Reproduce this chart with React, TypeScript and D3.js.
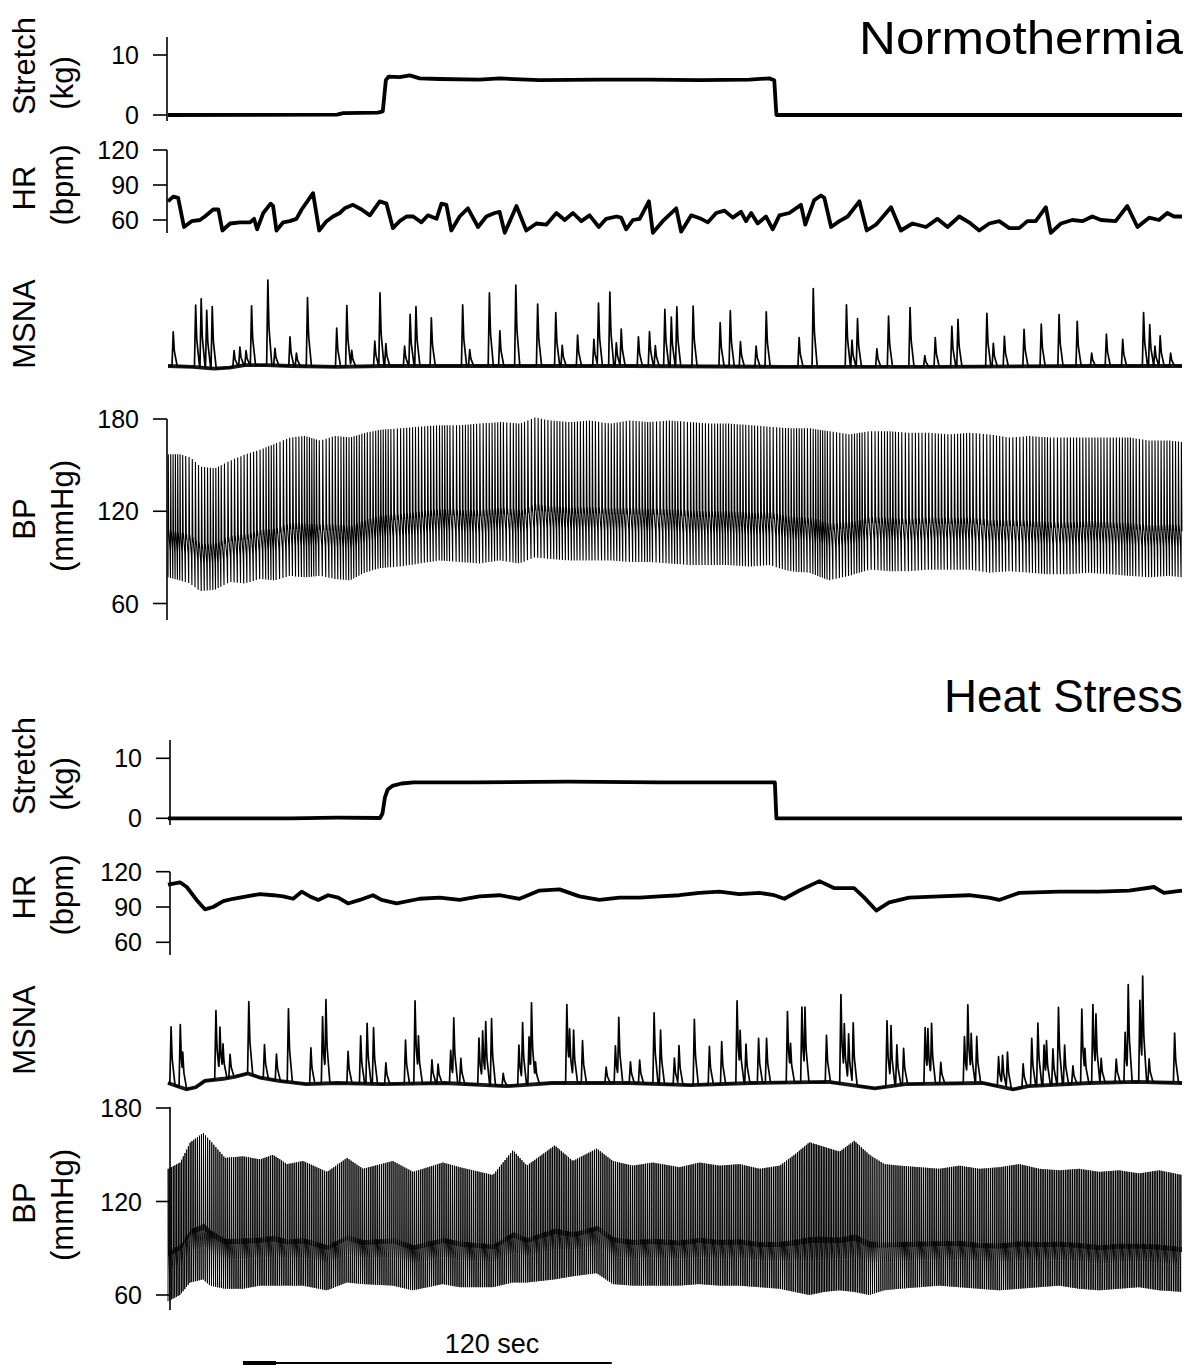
import React from "react";
import * as d3 from "d3";

// Recording length in seconds (x axis of every trace)
const T_END = 330;

// ---------- Normothermia ----------
const normStretch: [number, number][] = [
  [0, 0], [55, 0.05], [57, 0.3], [68.3, 0.4], [69.9, 0.6], [70.9, 5.8], [71.8, 6.4], [75.4, 6.3], [78.7, 6.6],
  [81.9, 6.1], [88.4, 6.0], [101.4, 5.9], [107.9, 6.1], [120.9, 5.8], [140.4, 5.9], [156.7, 5.9], [172.9, 5.8],
  [189.2, 5.9], [195.7, 6.1], [197.3, 5.8], [198, 0], [330, 0],
];

const normHR: [number, number][] = [
  [0, 76], [1.7, 80], [3.3, 79], [5.2, 54], [7.7, 59], [10.4, 60], [12.0, 63], [14.7, 69], [16.4, 69], [17.7, 51],
  [20.2, 57], [23.4, 58], [26.7, 58], [28.0, 61], [29.0, 52], [31.0, 66], [33.4, 74], [34.2, 72], [35.3, 51],
  [37.5, 58], [39.6, 59], [41.8, 61], [43.5, 69], [47.2, 83], [49.2, 51], [51.6, 59], [53.7, 63], [55.9, 66],
  [57.5, 70], [60.2, 73], [63.0, 69], [65.7, 64], [68.9, 76], [71.1, 74], [73.2, 53], [75.4, 59], [77.6, 63],
  [79.8, 63], [82.5, 58], [84.6, 64], [87.4, 61], [89.0, 74], [90.6, 73], [92.2, 51], [94.9, 63], [97.6, 70],
  [100.9, 54], [103.6, 63], [106.3, 66], [107.9, 67], [109.6, 49], [113.4, 72], [116.6, 51], [119.9, 57],
  [123.1, 56], [126.4, 66], [129.1, 60], [131.8, 66], [134.5, 59], [137.2, 64], [140.2, 54], [142.6, 61],
  [145.9, 63], [147.5, 62], [149.1, 52], [151.3, 60], [153.5, 61], [156.5, 76], [157.8, 49], [161.0, 59],
  [165.4, 70], [167.0, 50], [170.3, 64], [173.5, 61], [175.7, 58], [178.4, 66], [181.1, 68], [183.8, 62],
  [186.5, 67], [188.1, 59], [189.8, 66], [191.9, 57], [194.6, 63], [196.8, 52], [199.0, 64], [202.2, 66],
  [206.0, 73], [207.4, 56], [210.3, 77], [212.5, 81], [213.6, 79], [215.8, 54], [218.5, 59], [221.2, 63],
  [225.0, 76], [227.4, 51], [230.4, 56], [235.3, 71], [238.5, 51], [242.3, 57], [246.7, 54], [250.4, 61],
  [253.7, 54], [257.5, 63], [260.7, 58], [264.0, 51], [267.3, 57], [270.5, 59], [273.8, 53], [277.0, 53],
  [279.7, 59], [282.4, 59], [285.7, 71], [287.3, 49], [290.6, 57], [294.3, 60], [297.6, 59], [300.8, 63],
  [303.6, 60], [308.4, 59], [312.2, 72], [315.5, 54], [319.3, 62], [322.5, 60], [325.2, 66], [327.4, 63],
  [330, 63],
];

// MSNA bursts: [time s, amplitude a.u.]
const normBursts: [number, number][] = [
  [1.7, 40], [9.0, 72], [10.8, 80], [12.6, 67], [14.4, 72], [21.5, 19], [23.4, 22], [25.4, 17], [27.2, 69],
  [32.5, 99], [34.8, 20], [39.7, 34], [41.8, 15], [45.4, 80], [54.9, 45], [58.2, 71], [59.8, 19], [67.3, 29],
  [69.0, 85], [70.9, 26], [77.0, 23], [78.8, 60], [80.7, 69], [85.7, 56], [95.9, 71], [98.2, 19], [104.6, 85],
  [108.0, 41], [113.2, 94], [120.3, 72], [126.2, 62], [128.3, 24], [133.3, 36], [138.6, 31], [140.1, 73],
  [143.8, 86], [145.9, 27], [147.5, 43], [153.1, 34], [156.7, 40], [158.6, 24], [161.7, 66], [163.8, 57],
  [165.6, 69], [170.9, 70], [179.7, 51], [183.0, 65], [186.3, 29], [191.4, 24], [194.7, 64], [205.4, 34],
  [210.0, 91], [220.8, 72], [222.6, 31], [224.4, 56], [230.7, 21], [234.5, 59], [241.5, 69], [246.3, 13],
  [249.7, 34], [255.1, 47], [257.1, 55], [266.5, 62], [268.6, 27], [272.2, 35], [278.6, 43], [284.2, 49],
  [290.0, 60], [295.9, 52], [300.6, 15], [305.4, 37], [310.7, 31], [317.5, 62], [319.5, 48], [321.2, 23],
  [322.9, 35], [326.3, 15],
];

const normNerveBase: [number, number][] = [
  [0, 0], [8, -1], [15, -3], [20, -2], [25, 1], [32, 1], [40, 0], [55, -1], [70, 0], [150, 0], [200, -1],
  [250, -1], [300, 0], [330, 0],
];

// Beat-to-beat pressure envelope: [time s, systolic, diastolic]
const normBP: [number, number, number][] = [
  [0, 157, 77], [3.9, 157, 75], [7.2, 155, 73], [10.4, 149, 68], [15.3, 148, 69], [20.2, 153, 74],
  [25.0, 157, 73], [29.9, 160, 76], [34.8, 164, 75], [39.7, 168, 78], [44.5, 169, 77], [49.4, 166, 78],
  [54.3, 169, 76], [59.2, 168, 75], [64.0, 171, 80], [68.9, 173, 83], [75.4, 174, 84], [81.9, 175, 86],
  [88.4, 176, 88], [94.9, 176, 87], [101.4, 177, 86], [107.9, 178, 88], [114.4, 177, 86], [119.3, 181, 90],
  [124.2, 179, 89], [130.7, 178, 88], [137.2, 179, 88], [143.7, 177, 88], [150.2, 179, 87], [156.7, 178, 87],
  [163.2, 179, 86], [169.7, 178, 85], [176.2, 177, 85], [182.7, 177, 85], [189.2, 176, 84], [195.7, 175, 85],
  [202.2, 174, 81], [208.7, 174, 80], [215.2, 172, 75], [221.7, 170, 78], [228.2, 172, 82], [234.7, 172, 81],
  [241.2, 171, 81], [247.7, 171, 82], [254.2, 170, 82], [260.7, 171, 82], [267.2, 170, 80], [273.7, 168, 81],
  [280.2, 169, 80], [286.7, 168, 79], [293.2, 168, 79], [299.7, 168, 80], [306.3, 168, 79], [312.8, 168, 78],
  [319.3, 166, 77], [325.8, 166, 78], [330, 165, 77],
];

// ---------- Heat stress ----------
const heatStretch: [number, number][] = [
  [0, 0], [40, 0], [55, 0.1], [69, 0.05], [69.8, 0.8], [70.6, 3.5], [71.5, 4.8], [73, 5.4], [76, 5.8],
  [80, 6.0], [100, 6.0], [130, 6.1], [160, 6.0], [190, 6.0], [197.5, 6.0], [198, 0], [330, 0],
];

const heatHR: [number, number][] = [
  [0, 109], [3.9, 111], [6.1, 107], [9.3, 96], [12.0, 88], [14.7, 90], [18.0, 95], [21.2, 97], [25.6, 99],
  [29.9, 101], [34.2, 100], [37.5, 99], [40.7, 97], [43.5, 103], [46.2, 99], [48.9, 96], [52.1, 100],
  [55.4, 98], [58.6, 93], [62.4, 96], [66.7, 100], [69.5, 96], [74.4, 93], [81.9, 97], [88.4, 98], [94.9, 96],
  [101.4, 99], [107.9, 100], [114.4, 97], [120.9, 104], [127.4, 105], [133.9, 99], [140.4, 96], [146.9, 98],
  [153.4, 98], [159.9, 99], [166.4, 100], [172.9, 102], [179.4, 103], [185.9, 101], [192.5, 102],
  [197.3, 100], [200.6, 97], [205.5, 104], [212.0, 112], [216.9, 106], [223.3, 106], [226.6, 98],
  [230.5, 87], [234.7, 94], [241.2, 98], [251.0, 99], [260.7, 100], [267.2, 98], [270.5, 96], [277.0, 102],
  [290.0, 103], [303.0, 103], [312.8, 104], [320.9, 107], [324.1, 102], [330, 104],
];

const heatBursts: [number, number][] = [
  [1.0, 54], [4.0, 59], [4.8, 34], [15.6, 65], [16.9, 49], [17.9, 33], [20.2, 22], [26.3, 68], [31.4, 32],
  [35.3, 25], [39.2, 69], [46.5, 34], [50.3, 63], [51.4, 79], [58.6, 30], [62.7, 45], [64.8, 57], [66.9, 53],
  [70.9, 20], [77.3, 41], [80.4, 78], [81.5, 45], [85.9, 22], [87.9, 18], [92.0, 31], [93.0, 62], [95.3, 24],
  [101.2, 44], [102.4, 51], [103.4, 60], [105.3, 63], [109.1, 12], [114.2, 38], [115.4, 59], [117.5, 45],
  [118.3, 77], [119.6, 21], [129.8, 74], [130.7, 51], [132.0, 50], [134.9, 40], [142.6, 15], [145.6, 35],
  [146.7, 62], [150.5, 20], [153.5, 22], [158.2, 67], [160.3, 51], [164.8, 25], [166.3, 37], [171.3, 62],
  [176.2, 36], [180.2, 40], [185.2, 78], [186.2, 50], [188.1, 37], [192.2, 42], [194.8, 42], [201.6, 67],
  [202.6, 37], [206.3, 71], [207.3, 71], [214.3, 44], [219.0, 84], [220.1, 57], [221.5, 48], [223.0, 59],
  [234.0, 62], [235.3, 57], [237.2, 38], [239.4, 34], [246.4, 53], [247.3, 52], [248.5, 57], [251.5, 20],
  [259.2, 44], [260.3, 74], [261.4, 47], [263.2, 44], [270.3, 28], [271.6, 30], [273.2, 34], [278.3, 22],
  [281.1, 45], [283.1, 59], [285.1, 38], [285.9, 42], [288.0, 34], [289.8, 73], [291.8, 37], [294.5, 17],
  [297.4, 70], [298.4, 33], [301.0, 74], [302.0, 65], [303.7, 23], [308.6, 22], [311.5, 47], [312.5, 92],
  [316.3, 77], [317.2, 100], [319.3, 22], [327.6, 47],
];

const heatNerveBase: [number, number][] = [
  [0, 0], [4, -4], [6, -6], [9, -4], [12, 2], [18, 4], [22, 6], [26, 9], [30, 5], [36, 2], [45, -1], [55, 0],
  [70, -1], [90, 0], [110, -3], [125, 0], [150, 0], [170, -2], [190, 0], [215, 1], [230, -5], [240, -1],
  [265, 0], [275, -6], [280, -3], [300, 0], [315, 1], [330, 0],
];

const heatBP: [number, number, number][] = [
  [0, 141, 56], [3.9, 145, 60], [7.2, 158, 68], [11.4, 164, 70], [13.7, 159, 66], [18.5, 148, 64],
  [24.4, 149, 64], [29.9, 147, 66], [34.1, 150, 66], [38.7, 144, 66], [43.9, 146, 66], [51.7, 139, 63],
  [58.2, 148, 68], [63.4, 141, 67], [73.1, 146, 66], [79.7, 139, 63], [89.4, 145, 67], [94.9, 142, 65],
  [105.7, 137, 65], [112.2, 153, 68], [116.7, 143, 68], [125.8, 156, 70], [131.7, 146, 72], [139.5, 154, 74],
  [144.7, 146, 67], [151.2, 143, 66], [157.7, 145, 66], [166.4, 142, 66], [172.9, 145, 67], [179.4, 143, 66],
  [185.9, 144, 66], [192.5, 141, 65], [199.0, 143, 64], [203.8, 150, 62], [208.7, 158, 60], [213.6, 155, 62],
  [218.5, 152, 63], [223.3, 159, 62], [228.2, 150, 60], [233.1, 144, 63], [238.0, 143, 64], [244.5, 142, 65],
  [251.0, 141, 66], [257.5, 143, 65], [264.0, 141, 64], [270.5, 142, 63], [277.0, 144, 64], [283.5, 141, 65],
  [290.0, 140, 66], [296.5, 141, 64], [303.0, 139, 63], [309.5, 140, 64], [316.0, 138, 65], [322.5, 140, 63],
  [330, 137, 62],
];

// Tick values
const stretchTicks = [0, 10];
const hrTicks = [60, 90, 120];
const bpTicks = [60, 120, 180];
const scaleBarSeconds = 120;

// ---------- helpers ----------
const poly = (pairs: number[][], col: number) =>
  d3.scaleLinear().domain(pairs.map((d) => d[0])).range(pairs.map((d) => d[col])).clamp(true);

// One arterial pulse per beat, timed by the heart-rate series, scaled between diastolic and systolic
const pulseShape: [number, number][] = [[0, 0], [0.12, 1], [0.3, 0.34], [0.36, 0.38], [0.85, 0.22]];
function pressureWave(hr: [number, number][], env: [number, number, number][]) {
  const hrAt = poly(hr, 1);
  const sysAt = poly(env, 1);
  const diaAt = poly(env, 2);
  const pts: [number, number][] = [];
  let t = 0;
  while (t < T_END) {
    const period = 60 / hrAt(t);
    const s = sysAt(t);
    const d = diaAt(t);
    for (const [f, v] of pulseShape) {
      const tt = t + f * period;
      if (tt <= T_END) pts.push([tt, d + v * (s - d)]);
    }
    t += period;
  }
  return pts;
}

// Integrated nerve activity: baseline plus a sharp spike for every burst
function nerveTrace(bursts: [number, number][], base: [number, number][]) {
  const baseAt = poly(base, 1);
  const grid: number[] = [];
  for (let t = 0; t <= T_END; t += 0.1) grid.push(t);
  bursts.forEach(([bt]) => grid.push(bt));
  grid.sort((a, b) => a - b);
  return grid.map((t) => {
    let v = 0;
    for (const [bt, a] of bursts) {
      const dt = t - bt;
      let k = 0;
      if (dt > -0.4 && dt <= 0) k = 1 + dt / 0.4;
      else if (dt > 0 && dt <= 0.35) k = 1 - (0.55 * dt) / 0.35;
      else if (dt > 0.35 && dt < 1.3) k = 0.45 * (1 - (dt - 0.35) / 0.95);
      v = Math.max(v, k * a);
    }
    return [t, baseAt(t) + v] as [number, number];
  });
}

const FONT = "'Liberation Sans', Arial, Helvetica, sans-serif";

type AxisProps = {
  scale: d3.ScaleLinear<number, number>;
  ticks: number[];
  x: number;
  top: number;
  bottom: number;
};

function LeftAxis({ scale, ticks, x, top, bottom }: AxisProps) {
  return (
    <g>
      <line x1={x} x2={x} y1={top} y2={bottom} stroke="#000" strokeWidth={1.6} />
      {ticks.map((v) => (
        <g key={v}>
          <line x1={x - 14} x2={x} y1={scale(v)} y2={scale(v)} stroke="#000" strokeWidth={1.6} />
          <text x={x - 28} y={scale(v)} dy="0.36em" textAnchor="end" fontSize={25} fontFamily={FONT}>
            {v}
          </text>
        </g>
      ))}
    </g>
  );
}

function VLabel({ x, y, text }: { x: number; y: number; text: string }) {
  return (
    <text
      transform={`translate(${x},${y}) rotate(-90)`}
      textAnchor="middle"
      fontSize={31}
      fontFamily={FONT}
      fill="#000"
    >
      {text}
    </text>
  );
}

type SectionLayout = {
  title: string;
  titleWidth: number;
  titleY: number;
  axisX: number;
  stretchY: [number, number];
  stretchAxis: [number, number];
  hrY: [number, number];
  hrAxis: [number, number];
  nerveBaseY: number;
  nervePxPerUnit: number;
  bpY: [number, number];
  bpAxis: [number, number];
  bpStroke: number;
  labels: { stretch: [number, number]; hr: [number, number]; msna: number; bp: [number, number] };
};

function Section({
  layout,
  stretch,
  hr,
  bursts,
  nerveBase,
  bp,
  x,
}: {
  layout: SectionLayout;
  stretch: [number, number][];
  hr: [number, number][];
  bursts: [number, number][];
  nerveBase: [number, number][];
  bp: [number, number, number][];
  x: d3.ScaleLinear<number, number>;
}) {
  const L = layout;
  const yStretch = d3.scaleLinear().domain([0, 10]).range(L.stretchY);
  const yHR = d3.scaleLinear().domain([60, 120]).range(L.hrY);
  const yNerve = d3.scaleLinear().domain([0, 100]).range([L.nerveBaseY, L.nerveBaseY - 100 * L.nervePxPerUnit]);
  const yBP = d3.scaleLinear().domain([60, 180]).range(L.bpY);

  const mk = (ys: d3.ScaleLinear<number, number>) =>
    d3
      .line<[number, number]>()
      .x((d) => x(d[0]))
      .y((d) => ys(d[1]));

  const nerve = nerveTrace(bursts, nerveBase);
  const pulse = pressureWave(hr, bp);

  return (
    <g>
      <text
        x={1183}
        y={L.titleY}
        textAnchor="end"
        fontSize={46}
        fontFamily={FONT}
        textLength={L.titleWidth}
        lengthAdjust="spacingAndGlyphs"
      >
        {L.title}
      </text>

      <VLabel x={35} y={L.labels.stretch[0]} text="Stretch" />
      <VLabel x={73} y={L.labels.stretch[1]} text="(kg)" />
      <VLabel x={35} y={L.labels.hr[0]} text="HR" />
      <VLabel x={73} y={L.labels.hr[1]} text="(bpm)" />
      <VLabel x={35} y={L.labels.msna} text="MSNA" />
      <VLabel x={35} y={L.labels.bp[0]} text="BP" />
      <VLabel x={73} y={L.labels.bp[1]} text="(mmHg)" />

      <LeftAxis scale={yStretch} ticks={stretchTicks} x={L.axisX} top={L.stretchAxis[0]} bottom={L.stretchAxis[1]} />
      <LeftAxis scale={yHR} ticks={hrTicks} x={L.axisX} top={L.hrAxis[0]} bottom={L.hrAxis[1]} />
      <LeftAxis scale={yBP} ticks={bpTicks} x={L.axisX} top={L.bpAxis[0]} bottom={L.bpAxis[1]} />

      <path d={mk(yStretch)(stretch) ?? ""} fill="none" stroke="#000" strokeWidth={3.8} strokeLinejoin="round" />
      <path d={mk(yHR)(hr) ?? ""} fill="none" stroke="#000" strokeWidth={3.8} strokeLinejoin="round" />

      <path d={mk(yNerve)(nerveBase) ?? ""} fill="none" stroke="#1a1a1a" strokeWidth={3.8} />
      <path d={mk(yNerve)(nerve) ?? ""} fill="none" stroke="#000" strokeWidth={1.7} strokeLinejoin="round" />

      <path d={mk(yBP)(pulse) ?? ""} fill="none" stroke="#000" strokeWidth={L.bpStroke} />
    </g>
  );
}

const normLayout: SectionLayout = {
  title: "Normothermia",
  titleWidth: 324,
  titleY: 54,
  axisX: 167,
  stretchY: [115, 55],
  stretchAxis: [37, 121],
  hrY: [220, 150],
  hrAxis: [150, 233],
  nerveBaseY: 366,
  nervePxPerUnit: 0.86,
  bpY: [603.5, 419],
  bpAxis: [419, 620],
  bpStroke: 1.1,
  labels: { stretch: [66, 83], hr: [188, 185], msna: 324, bp: [519, 516] },
};

const heatLayout: SectionLayout = {
  title: "Heat Stress",
  titleWidth: 239,
  titleY: 712,
  axisX: 170,
  stretchY: [818.3, 758.3],
  stretchAxis: [740, 825],
  hrY: [942.3, 871.7],
  hrAxis: [871.7, 955],
  nerveBaseY: 1083,
  nervePxPerUnit: 1.06,
  bpY: [1295, 1108],
  bpAxis: [1107, 1310],
  bpStroke: 0.95,
  labels: { stretch: [766, 784], hr: [897, 895], msna: 1030, bp: [1203, 1205] },
};

export default function App() {
  const x = d3.scaleLinear().domain([0, T_END]).range([168, 1182]);
  const barStart = 243;
  const barEnd = barStart + (x(scaleBarSeconds) - x(0));
  return (
    <svg
      width={1188}
      height={1365}
      viewBox="0 0 1188 1365"
      style={{ position: "absolute", left: 0, top: 0, background: "#fff" }}
    >
      <rect width={1188} height={1365} fill="#fff" />
      <Section
        layout={normLayout}
        stretch={normStretch}
        hr={normHR}
        bursts={normBursts}
        nerveBase={normNerveBase}
        bp={normBP}
        x={x}
      />
      <Section
        layout={heatLayout}
        stretch={heatStretch}
        hr={heatHR}
        bursts={heatBursts}
        nerveBase={heatNerveBase}
        bp={heatBP}
        x={x}
      />
      <text x={492} y={1353} textAnchor="middle" fontSize={27} fontFamily={FONT}>
        {scaleBarSeconds} sec
      </text>
      <line x1={barStart} x2={barEnd} y1={1363} y2={1363} stroke="#000" strokeWidth={2} />
      <line x1={barStart} x2={barStart + 33} y1={1363} y2={1363} stroke="#000" strokeWidth={4} />
    </svg>
  );
}
